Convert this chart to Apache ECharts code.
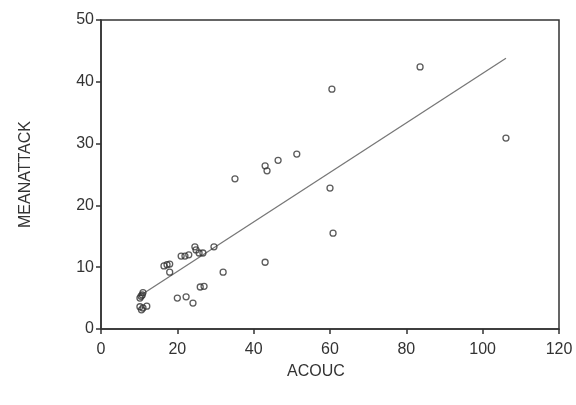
<!DOCTYPE html>
<html>
<head>
<meta charset="utf-8">
<script src="https://cdn.jsdelivr.net/npm/echarts@6/dist/echarts.min.js"></script>
<style>html,body{margin:0;padding:0;background:#fff;}#c{width:576px;height:405px;}</style>
</head>
<body>
<div id="c"></div>
<script>
const acoucX = [10.2, 10.5, 10.8, 11.0, 10.2, 11.0, 12.0, 10.6, 16.5, 17.3, 18.0, 18.0, 21.0, 22.0, 23.0, 24.6, 24.9, 25.7, 26.7, 29.6, 32.0, 26.0, 27.0, 20.0, 22.3, 24.1, 35.1, 43.0, 43.5, 46.4, 51.3, 60.0, 60.8, 43.0, 60.5, 83.6, 106.1];
const meanAttackY = [5.0, 5.3, 5.5, 5.9, 3.6, 3.4, 3.7, 3.1, 10.2, 10.4, 10.5, 9.2, 11.8, 11.8, 12.0, 13.3, 12.8, 12.3, 12.3, 13.3, 9.2, 6.8, 6.9, 5.0, 5.2, 4.2, 24.3, 26.4, 25.6, 27.3, 28.3, 22.8, 15.5, 10.8, 38.8, 42.4, 30.9];
const fitX = [10.0, 106.1];
const fitY = [5.3, 43.8];

const chart = echarts.init(document.getElementById('c'), null, {renderer: 'canvas'});
const font = 'Liberation Sans, Arial, sans-serif';
chart.setOption({
  animation: false,
  backgroundColor: '#fff',
  grid: {left: 101, right: 17, top: 20, bottom: 76, show: true, borderColor: '#333', borderWidth: 1.5, backgroundColor: 'transparent'},
  xAxis: {
    type: 'value', min: 0, max: 120, interval: 20,
    name: 'ACOUC', nameLocation: 'middle', nameGap: 35,
    nameTextStyle: {fontFamily: font, fontSize: 16, color: '#333', padding: [0, 28, 0, 0]},
    axisLine: {show: true, onZero: false, lineStyle: {color: '#333', width: 1.5}},
    axisTick: {show: true, length: 5, lineStyle: {color: '#333', width: 1.5}},
    axisLabel: {fontFamily: font, fontSize: 16, color: '#333', margin: 13},
    splitLine: {show: false}
  },
  yAxis: {
    type: 'value', min: 0, max: 50, interval: 10,
    name: 'MEANATTACK', nameLocation: 'middle', nameGap: 67, nameRotate: 90,
    nameTextStyle: {fontFamily: font, fontSize: 16, color: '#333'},
    axisLine: {show: true, onZero: false, lineStyle: {color: '#333', width: 1.5}},
    axisTick: {show: true, length: 5, lineStyle: {color: '#333', width: 1.5}},
    axisLabel: {fontFamily: font, fontSize: 16, color: '#333', margin: 7},
    splitLine: {show: false}
  },
  series: [
    {
      type: 'line',
      data: fitX.map((x, i) => [x, fitY[i]]),
      symbol: 'none',
      lineStyle: {color: '#777', width: 1.3},
      z: 1
    },
    {
      type: 'scatter',
      data: acoucX.map((x, i) => [x, meanAttackY[i]]),
      symbol: 'circle',
      symbolSize: 6,
      itemStyle: {color: 'rgba(255,255,255,0)', borderColor: '#333', borderWidth: 1.3},
      z: 2
    }
  ]
});
</script>
</body>
</html>
